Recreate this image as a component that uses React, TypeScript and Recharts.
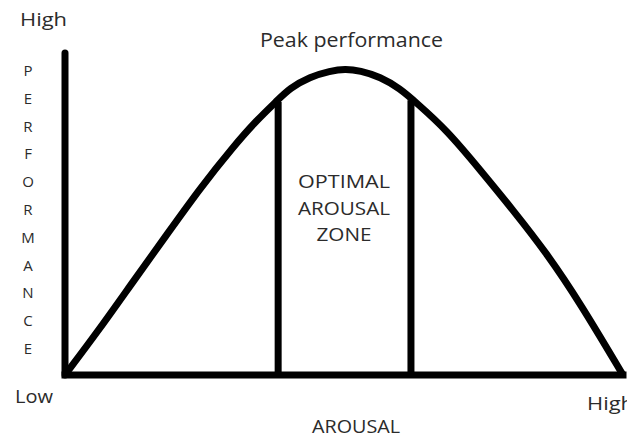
import { LineChart, Line, XAxis, YAxis, ReferenceLine } from 'recharts'

// arousal (x) vs performance (y), both on a 0–100 scale
const arousal = [0, 6.3, 12.2, 18.2, 24.2, 30.2, 34.4, 37.9, 40.3, 43.9, 47.5, 50.2, 52.9, 56.5, 60.0, 63.0, 68.4, 74.4, 80.3, 86.3, 92.3, 100]
const performance = [0, 14.5, 29.0, 43.5, 58.0, 71.0, 79.2, 85.0, 89.1, 92.6, 94.4, 95.1, 94.5, 92.6, 89.0, 84.5, 76.1, 63.7, 51.2, 37.9, 22.4, 0]

// edges of the optimal arousal zone and where they meet the curve
const zoneX = [38.2, 62.0]
const zoneTop = [84.8, 85.3]

const yLetters = 'PERFORMANCE'.split('')
const zoneLines = ['OPTIMAL', 'AROUSAL', 'ZONE']
const zoneWidths = [92, 92, 55]

const data = arousal.map((a, i) => ({ arousal: a, performance: performance[i] }))

const FONT = '"Open Sans", sans-serif'
const INK = '#2b2b2b'

const Label = ({ x, y, size, len, children, anchor = 'start' }: any) => (
  <text
    x={x}
    y={y}
    textAnchor={anchor}
    fontFamily={FONT}
    fontSize={size}
    fill={INK}
    textLength={len}
    lengthAdjust="spacingAndGlyphs"
  >
    {children}
  </text>
)

export default function App() {
  return (
    <div style={{ position: 'absolute', left: 0, top: 0, width: 627, height: 439, background: '#fff' }}>
      <LineChart
        width={627}
        height={439}
        data={data}
        margin={{ top: 53, right: 4, left: 65, bottom: 64 }}
      >
        <XAxis dataKey="arousal" type="number" domain={[0, 100]} hide />
        <YAxis type="number" domain={[0, 100]} hide />
        {/* axes drawn as thick segments */}
        <ReferenceLine
          segment={[{ x: 0, y: 0 }, { x: 0, y: 100 }]}
          stroke="#000"
          strokeWidth={7}
          strokeLinecap="round"
          ifOverflow="visible"
        />
        <ReferenceLine
          segment={[{ x: 0, y: 0 }, { x: 100, y: 0 }]}
          stroke="#000"
          strokeWidth={7}
          strokeLinecap="square"
          ifOverflow="visible"
        />
        {zoneX.map((x, i) => (
          <ReferenceLine
            key={x}
            segment={[{ x, y: 0 }, { x, y: zoneTop[i] }]}
            stroke="#000"
            strokeWidth={7}
            ifOverflow="visible"
          />
        ))}
        <Line
          type="basis"
          dataKey="performance"
          stroke="#000"
          strokeWidth={7}
          strokeLinejoin="round"
          dot={false}
          activeDot={false}
          isAnimationActive={false}
        />
        <Label x={20} y={26} size={18} len={47}>High</Label>
        <Label x={15} y={403} size={18} len={38}>Low</Label>
        <Label x={587} y={410} size={18} len={47}>High</Label>
        <Label x={312} y={433} size={18} len={88}>AROUSAL</Label>
        <Label x={260} y={47} size={20} len={183}>Peak performance</Label>
        {yLetters.map((ch, i) => (
          <text key={i} x={28} y={76 + i * 27.8} textAnchor="middle" fontFamily={FONT} fontSize={15} fill={INK}>
            {ch}
          </text>
        ))}
        {zoneLines.map((s, i) => (
          <Label key={s} x={344} y={188 + i * 26.5} size={18} len={zoneWidths[i]} anchor="middle">
            {s}
          </Label>
        ))}
      </LineChart>
    </div>
  )
}
